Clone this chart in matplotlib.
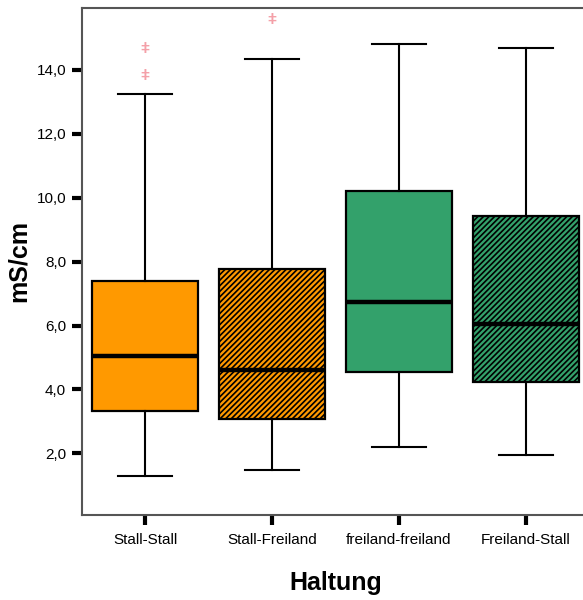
import matplotlib.pyplot as plt
import matplotlib as mpl

plt.rcParams['font.family'] = ['Liberation Sans', 'DejaVu Sans']
mpl.rcParams['hatch.linewidth'] = 1.2

# -----------------------------------------------------------------
# DADOS
# -----------------------------------------------------------------
groups = ['Stall-Stall', 'Stall-Freiland', 'freiland-freiland', 'Freiland-Stall']
whisk_lo = [1.30, 1.47, 2.19, 1.94]
q1 = [3.33, 3.08, 4.55, 4.23]
med = [5.05, 4.62, 6.75, 6.06]
q3 = [7.40, 7.77, 10.22, 9.44]
whisk_hi = [13.25, 14.33, 14.80, 14.70]
outliers = [[13.8, 14.67], [15.55], [], []]
colors = ['#FF9900', '#FF9900', '#33A16B', '#33A16B']
hatches = [None, '//////', None, '//////']

stats = []
for i in range(len(groups)):
    stats.append(dict(label=groups[i], whislo=whisk_lo[i], q1=q1[i], med=med[i],
                      q3=q3[i], whishi=whisk_hi[i], fliers=outliers[i]))

fig = plt.figure(figsize=(5.83, 6.0), dpi=100)
ax = fig.add_axes([0.1398, 0.1417, 0.8713, 0.845])

bp = ax.bxp(stats, positions=range(len(groups)), widths=0.84, patch_artist=True,
            showfliers=False,
            boxprops=dict(linewidth=1.6, edgecolor='black'),
            medianprops=dict(color='black', linewidth=3.2),
            whiskerprops=dict(color='black', linewidth=1.5),
            capprops=dict(color='black', linewidth=1.5),
            capwidths=0.42)

for patch, c, h in zip(bp['boxes'], colors, hatches):
    patch.set_facecolor(c)
    if h:
        patch.set_hatch(h)

# outliers (marcadores rosa)
for i, vals in enumerate(outliers):
    for v in vals:
        ax.text(i, v, 'ǂ', color='#F4A0A8', fontsize=11, ha='center', va='center',
                fontweight='bold')

ax.set_xlim(-0.5, 3.5)
ax.set_ylim(0.07, 15.94)
ax.set_yticks([2, 4, 6, 8, 10, 12, 14])
ax.set_yticklabels(['2,0', '4,0', '6,0', '8,0', '10,0', '12,0', '14,0'], fontsize=11)
ax.set_xticks(range(len(groups)))
ax.set_xticklabels(groups, fontsize=11)
ax.tick_params(axis='both', length=7, width=3, color='black', direction='out')
ax.tick_params(axis='x', pad=6)
ax.tick_params(axis='y', pad=4)

for s in ax.spines.values():
    s.set_color('#555555')
    s.set_linewidth(1.5)

ax.set_ylabel('mS/cm', fontsize=18, fontweight='bold', labelpad=4)
ax.set_xlabel('Haltung', fontsize=18, fontweight='bold', labelpad=17)

fig.savefig('out.png', dpi=100)
